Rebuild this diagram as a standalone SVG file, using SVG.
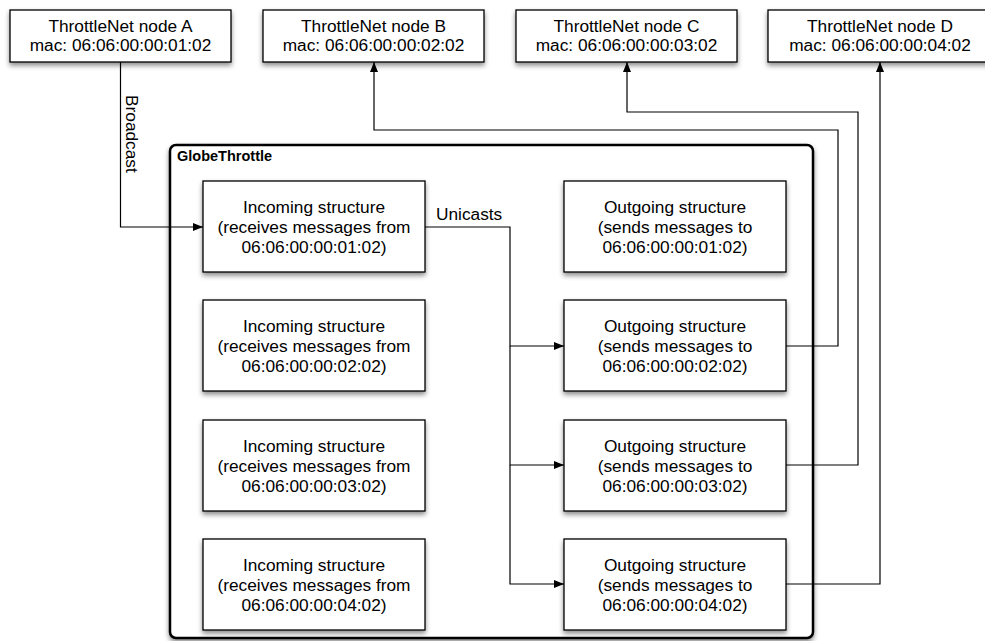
<svg xmlns="http://www.w3.org/2000/svg" width="985" height="641" viewBox="0 0 985 641">
  <style>
    .box { fill: #fff; stroke: #000; stroke-width: 1.3; filter: url(#shadow); }
    .frame { fill: #fff; stroke: #000; stroke-width: 2.5; filter: url(#shadow); }
    .lbl { font-family: "Liberation Sans", Arial, sans-serif; font-size: 17.3px; fill: #000; text-anchor: middle; }
    .edge { font-family: "Liberation Sans", Arial, sans-serif; font-size: 17.3px; fill: #000; }
    .title { font-family: "Liberation Sans", Arial, sans-serif; font-size: 14.5px; font-weight: bold; fill: #000; }
    .wire { fill: none; stroke: #000; stroke-width: 1.2; marker-end: url(#arrow); }
  </style>
  <defs>
    <filter id="shadow" x="-10%" y="-10%" width="130%" height="140%">
      <feDropShadow dx="0" dy="3" stdDeviation="2.5" flood-color="#000" flood-opacity="0.45"/>
    </filter>
    <marker id="arrow" viewBox="0 0 10 8" refX="10" refY="4" markerWidth="10" markerHeight="8" markerUnits="userSpaceOnUse" orient="auto">
      <path d="M0,0 L10,4 L0,8 Z" fill="#000"/>
    </marker>
  </defs>
  <rect width="985" height="641" fill="#fff"/>

  <!-- GlobeThrottle container -->
  <g id="globethrottle">
    <rect class="frame" x="170" y="145" width="643" height="493" rx="6"/>
    <text class="title" x="177" y="161">GlobeThrottle</text>
  </g>

  <!-- ThrottleNet nodes -->
  <g id="nodeA">
    <rect class="box" x="10" y="10" width="221" height="52"/>
    <text class="lbl" x="120.5" y="32">ThrottleNet node A</text>
    <text class="lbl" x="120.5" y="51">mac: 06:06:00:00:01:02</text>
  </g>
  <g id="nodeB">
    <rect class="box" x="263" y="10" width="221" height="52"/>
    <text class="lbl" x="373.5" y="32">ThrottleNet node B</text>
    <text class="lbl" x="373.5" y="51">mac: 06:06:00:00:02:02</text>
  </g>
  <g id="nodeC">
    <rect class="box" x="516" y="10" width="221" height="52"/>
    <text class="lbl" x="626.5" y="32">ThrottleNet node C</text>
    <text class="lbl" x="626.5" y="51">mac: 06:06:00:00:03:02</text>
  </g>
  <g id="nodeD">
    <rect class="box" x="768" y="10" width="224" height="52"/>
    <text class="lbl" x="880" y="32">ThrottleNet node D</text>
    <text class="lbl" x="880" y="51">mac: 06:06:00:00:04:02</text>
  </g>

  <!-- Incoming structures -->
  <g id="in1">
    <rect class="box" x="203" y="181" width="222" height="91"/>
    <text class="lbl" x="314" y="213">Incoming structure</text>
    <text class="lbl" x="314" y="233">(receives messages from</text>
    <text class="lbl" x="314" y="253">06:06:00:00:01:02)</text>
  </g>
  <g id="in2">
    <rect class="box" x="203" y="300" width="222" height="91"/>
    <text class="lbl" x="314" y="332">Incoming structure</text>
    <text class="lbl" x="314" y="352">(receives messages from</text>
    <text class="lbl" x="314" y="372">06:06:00:00:02:02)</text>
  </g>
  <g id="in3">
    <rect class="box" x="203" y="420" width="222" height="91"/>
    <text class="lbl" x="314" y="452">Incoming structure</text>
    <text class="lbl" x="314" y="472">(receives messages from</text>
    <text class="lbl" x="314" y="492">06:06:00:00:03:02)</text>
  </g>
  <g id="in4">
    <rect class="box" x="203" y="539" width="222" height="91"/>
    <text class="lbl" x="314" y="571">Incoming structure</text>
    <text class="lbl" x="314" y="591">(receives messages from</text>
    <text class="lbl" x="314" y="611">06:06:00:00:04:02)</text>
  </g>

  <!-- Outgoing structures -->
  <g id="out1">
    <rect class="box" x="564" y="181" width="222" height="91"/>
    <text class="lbl" x="675" y="213">Outgoing structure</text>
    <text class="lbl" x="675" y="233">(sends messages to</text>
    <text class="lbl" x="675" y="253">06:06:00:00:01:02)</text>
  </g>
  <g id="out2">
    <rect class="box" x="564" y="300" width="222" height="91"/>
    <text class="lbl" x="675" y="332">Outgoing structure</text>
    <text class="lbl" x="675" y="352">(sends messages to</text>
    <text class="lbl" x="675" y="372">06:06:00:00:02:02)</text>
  </g>
  <g id="out3">
    <rect class="box" x="564" y="420" width="222" height="91"/>
    <text class="lbl" x="675" y="452">Outgoing structure</text>
    <text class="lbl" x="675" y="472">(sends messages to</text>
    <text class="lbl" x="675" y="492">06:06:00:00:03:02)</text>
  </g>
  <g id="out4">
    <rect class="box" x="564" y="539" width="222" height="91"/>
    <text class="lbl" x="675" y="571">Outgoing structure</text>
    <text class="lbl" x="675" y="591">(sends messages to</text>
    <text class="lbl" x="675" y="611">06:06:00:00:04:02)</text>
  </g>

  <!-- Connectors -->
  <g id="connectors">
    <path class="wire" d="M120.5,62 V227 H203"/>
    <text class="edge" transform="translate(126,95) rotate(90)">Broadcast</text>

    <path class="wire" d="M425,227 H510 V346 H564"/>
    <path class="wire" d="M510,346 V465 H564"/>
    <path class="wire" d="M510,465 V584 H564"/>
    <text class="edge" x="436" y="220">Unicasts</text>

    <path class="wire" d="M786,346 H838 V130 H374 V62"/>
    <path class="wire" d="M786,465 H858 V112 H627 V62"/>
    <path class="wire" d="M786,584 H880 V62"/>
  </g>
</svg>
